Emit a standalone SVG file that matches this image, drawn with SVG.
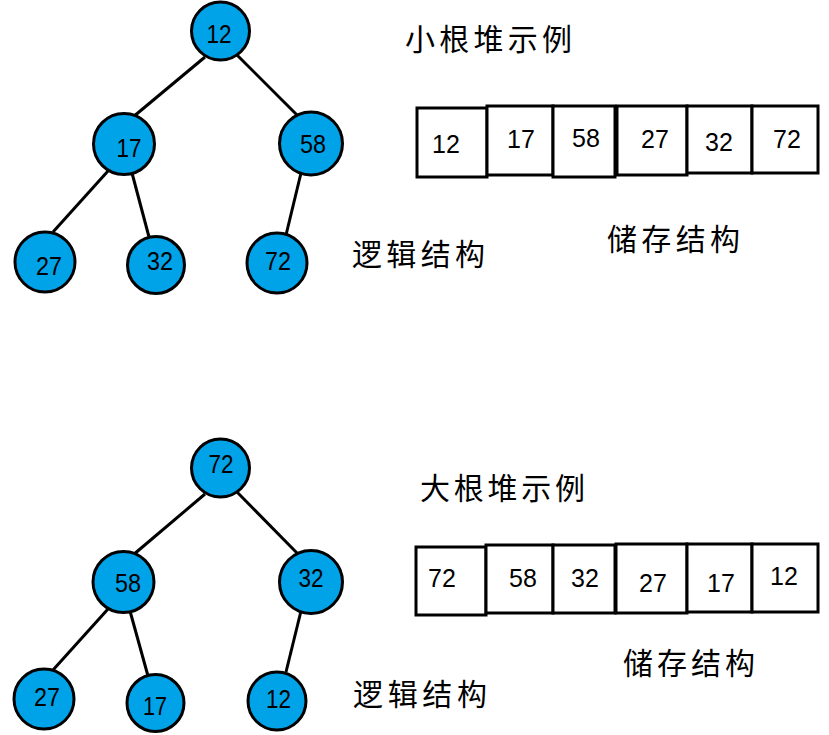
<svg xmlns="http://www.w3.org/2000/svg" width="829" height="735" viewBox="0 0 829 735">
<style>
.n circle{fill:#00A2E8;stroke:#000;stroke-width:3}
.n text{font-family:"Liberation Sans",Arial,sans-serif;font-size:25px;fill:#000;text-anchor:middle}
.b rect{fill:#fff;stroke:#000;stroke-width:3}
.b text{font-family:"Liberation Sans",Arial,sans-serif;font-size:25px;fill:#000;text-anchor:middle}
.e line{stroke:#000;stroke-width:3}
.lbl{font-family:"Noto Sans CJK SC","Noto Sans CJK JP",sans-serif;font-size:30px;font-weight:400;fill:#000}
</style>
<rect width="829" height="735" fill="#fff"/>
<g id="edges-min" class="e">
<line x1="205" y1="57" x2="133" y2="117"/>
<line x1="237" y1="55" x2="298" y2="116"/>
<line x1="108" y1="171" x2="53" y2="232"/>
<line x1="132" y1="173" x2="149" y2="237"/>
<line x1="301" y1="173" x2="286" y2="235"/>
</g>
<g id="edges-max" class="e">
<line x1="205" y1="494" x2="133" y2="555"/>
<line x1="237" y1="492" x2="298" y2="554"/>
<line x1="108" y1="609" x2="53" y2="670"/>
<line x1="130" y1="611" x2="148" y2="676"/>
<line x1="301" y1="611" x2="286" y2="672"/>
</g>
<g id="min-12" class="n"><circle cx="220.5" cy="31" r="29"/><text x="219" y="43" textLength="25" lengthAdjust="spacingAndGlyphs">12</text></g>
<g id="min-17" class="n"><circle cx="124" cy="144" r="30.5"/><text x="129" y="157" textLength="25" lengthAdjust="spacingAndGlyphs">17</text></g>
<g id="min-58" class="n"><circle cx="311" cy="143.5" r="31.5"/><text x="313" y="153" textLength="26" lengthAdjust="spacingAndGlyphs">58</text></g>
<g id="min-27" class="n"><circle cx="45" cy="262" r="30"/><text x="49" y="275" textLength="26" lengthAdjust="spacingAndGlyphs">27</text></g>
<g id="min-32" class="n"><circle cx="156" cy="265" r="28.5"/><text x="160" y="270" textLength="26" lengthAdjust="spacingAndGlyphs">32</text></g>
<g id="min-72" class="n"><circle cx="277" cy="263" r="30"/><text x="278" y="270" textLength="26" lengthAdjust="spacingAndGlyphs">72</text></g>
<g id="max-72" class="n"><circle cx="220.5" cy="468" r="29"/><text x="221" y="473" textLength="25" lengthAdjust="spacingAndGlyphs">72</text></g>
<g id="max-58" class="n"><circle cx="123.5" cy="582" r="30.5"/><text x="128" y="592" textLength="26" lengthAdjust="spacingAndGlyphs">58</text></g>
<g id="max-32" class="n"><circle cx="311" cy="582" r="31.5"/><text x="311" y="587" textLength="25" lengthAdjust="spacingAndGlyphs">32</text></g>
<g id="max-27" class="n"><circle cx="44" cy="699" r="30"/><text x="47" y="706" textLength="26" lengthAdjust="spacingAndGlyphs">27</text></g>
<g id="max-17" class="n"><circle cx="155.5" cy="703" r="28.5"/><text x="155" y="715" textLength="24" lengthAdjust="spacingAndGlyphs">17</text></g>
<g id="max-12" class="n"><circle cx="277" cy="701" r="29"/><text x="278.5" y="708" textLength="25" lengthAdjust="spacingAndGlyphs">12</text></g>
<g id="arr-min" class="b">
<rect x="417" y="108" width="70" height="69"/><text x="446" y="153">12</text>
<rect x="487" y="106" width="66" height="69"/><text x="521" y="148">17</text>
<rect x="553" y="106" width="62" height="71"/><text x="586" y="147">58</text>
<rect x="617" y="106" width="70" height="69"/><text x="655" y="148">27</text>
<rect x="687" y="106" width="65" height="67"/><text x="719" y="151">32</text>
<rect x="752" y="106" width="66" height="67"/><text x="787" y="148">72</text>
</g>
<g id="arr-max" class="b">
<rect x="416" y="547" width="70" height="68"/><text x="442" y="587">72</text>
<rect x="486" y="545" width="67" height="68"/><text x="523" y="587">58</text>
<rect x="553" y="545" width="62" height="68"/><text x="585" y="587">32</text>
<rect x="616" y="544" width="71" height="69"/><text x="653" y="592">27</text>
<rect x="687" y="544" width="65" height="68"/><text x="721" y="592">17</text>
<rect x="752" y="544" width="66" height="68"/><text x="784" y="585">12</text>
</g>
<g id="labels">
<text class="lbl" x="405" y="50" textLength="167" lengthAdjust="spacing">小根堆示例</text>
<text class="lbl" x="352" y="265" textLength="133" lengthAdjust="spacing">逻辑结构</text>
<text class="lbl" x="607" y="250" textLength="133" lengthAdjust="spacing">储存结构</text>
<text class="lbl" x="420" y="499" textLength="165" lengthAdjust="spacing">大根堆示例</text>
<text class="lbl" x="353" y="705" textLength="134" lengthAdjust="spacing">逻辑结构</text>
<text class="lbl" x="623" y="674" textLength="132" lengthAdjust="spacing">储存结构</text>
</g>
</svg>
